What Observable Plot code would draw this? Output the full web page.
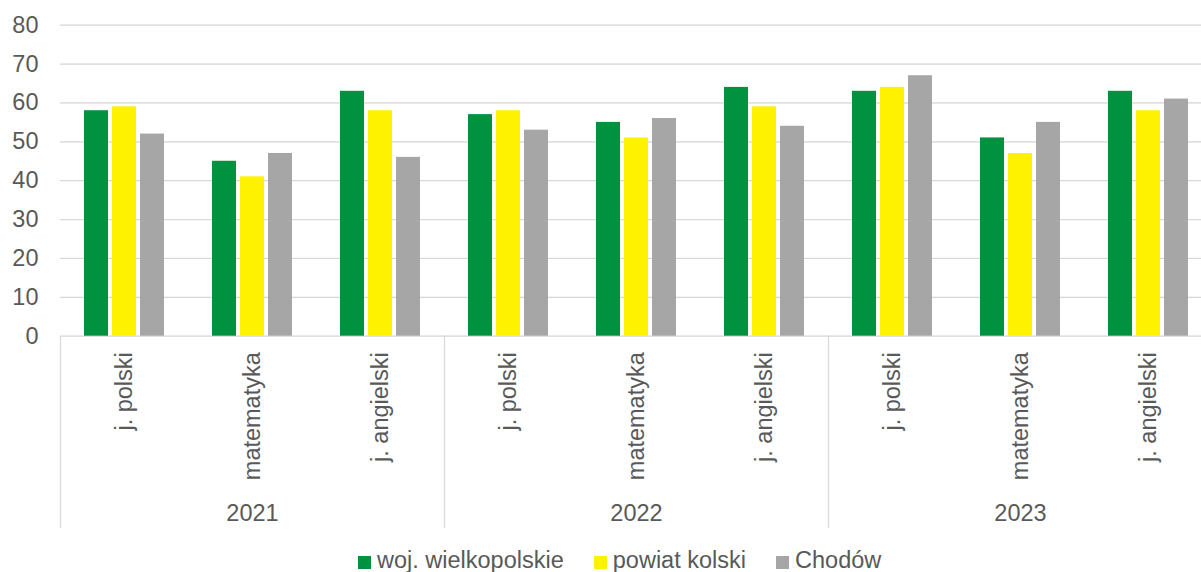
<!DOCTYPE html>
<html>
<head>
<meta charset="utf-8">
<script src="https://cdn.jsdelivr.net/npm/d3@7"></script>
<script src="https://cdn.jsdelivr.net/npm/@observablehq/plot@0.6"></script>
<style>
  html, body { margin: 0; padding: 0; background: #fff; overflow: hidden; }
  #chart { width: 1213px; }
  #chart svg { display: block; max-width: none !important; }
  #legend { position: absolute; left: 358px; top: 547px; display: flex; align-items: center;
    font-family: "Liberation Sans", Arial, sans-serif; font-size: 23.5px; color: #595959; white-space: nowrap; }
  .item { display: flex; align-items: center; margin-right: 30px; }
  .sw { width: 13px; height: 13px; margin-right: 6px; margin-top: 3px; }
</style>
</head>
<body>
<div id="chart"></div>
<div id="legend"></div>
<script>
const years = ["2021", "2022", "2023"];
const subjects = ["j. polski", "matematyka", "j. angielski"];
const series = ["woj. wielkopolskie", "powiat kolski", "Chodów"];
const wojValues = [58, 45, 63, 57, 55, 64, 63, 51, 63];
const powiatValues = [59, 41, 58, 58, 51, 59, 64, 47, 58];
const chodowValues = [52, 47, 46, 53, 56, 54, 67, 55, 61];
const colors = ["#00923F", "#FFF200", "#A6A6A6"];
const yTicks = [0, 10, 20, 30, 40, 50, 60, 70, 80];

const cells = [];
years.forEach(y => subjects.forEach(s => cells.push({year: y, subject: s, key: y + "|" + s})));
const seriesValues = [wojValues, powiatValues, chodowValues];
const rows = [];
cells.forEach((c, i) => series.forEach((s, j) => rows.push({...c, series: s, value: seriesValues[j][i]})));
const yearCells = years.map(y => ({year: y, key: y + "|" + subjects[1]}));
const groupStarts = years.map(y => y + "|" + subjects[0]);

const H = 540, MT = 24.7, MB = 204.3;
const plotH = H - MT - MB;
const sepBelow = 191;
const grid = "#d9d9d9";
const txt = "#595959";

const chart = Plot.plot({
  width: 1213,
  height: H,
  marginLeft: 58,
  marginRight: 0,
  marginTop: MT,
  marginBottom: MB,
  style: {fontFamily: "'Liberation Sans', Arial, sans-serif", fontSize: "23.5px", color: txt, background: "#fff", maxWidth: "none"},
  fx: {domain: cells.map(d => d.key), padding: 0, axis: null},
  x: {domain: series, paddingInner: 0.158, paddingOuter: 0.83, axis: null},
  y: {domain: [0, 80], ticks: yTicks, tickSize: 0, tickPadding: 22, grid: true, label: null},
  color: {domain: series, range: colors},
  marks: [
    Plot.gridY(yTicks, {stroke: grid, strokeOpacity: 1, strokeWidth: 1.3}),
    Plot.barY(rows, {fx: "key", x: "series", y: "value", fill: "series"}),
    Plot.text(cells, {fx: "key", text: "subject", frameAnchor: "bottom", lineAnchor: "middle", rotate: -90, textAnchor: "end", dy: 16, fill: txt, fontSize: 23.5}),
    Plot.text(yearCells, {fx: "key", text: "year", frameAnchor: "bottom", lineAnchor: "middle", dy: 177, fill: txt, fontSize: 23.5}),
    ...groupStarts.map(k => Plot.frame({anchor: "left", fx: () => k, stroke: grid, strokeWidth: 1.3, insetTop: plotH, insetBottom: -sepBelow}))
  ]
});
document.getElementById("chart").appendChild(chart);

const legend = document.getElementById("legend");
series.forEach((s, i) => {
  const it = document.createElement("div");
  it.className = "item";
  const sw = document.createElement("span");
  sw.className = "sw";
  sw.style.background = colors[i];
  const t = document.createElement("span");
  t.textContent = s;
  it.appendChild(sw); it.appendChild(t);
  legend.appendChild(it);
});
</script>
</body>
</html>
